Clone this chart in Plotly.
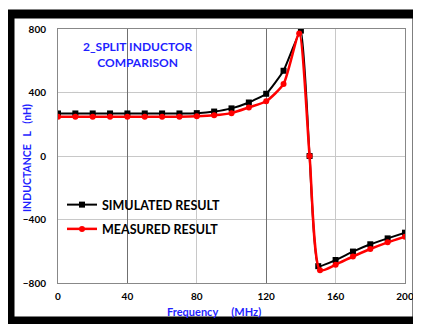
import plotly.graph_objects as go

# Simulated (black squares)
sim_f = [0, 10, 20, 30, 40, 50, 60, 70, 80, 90, 100, 110, 120, 130, 140, 145, 150, 160, 170, 180, 190, 200]
sim_L = [268, 268, 268, 268, 268, 268, 268, 268, 270, 280, 300, 337, 392, 537, 790, 0, -694, -655, -602, -556, -519, -483]

# Measured (red circles)
mea_f = [0, 10, 20, 30, 40, 50, 60, 70, 80, 90, 100, 110, 120, 130, 139, 145, 151, 160, 170, 180, 190, 200]
mea_L = [248, 248, 248, 248, 248, 248, 248, 248, 250, 256, 270, 306, 345, 454, 772, 0, -720, -685, -633, -586, -544, -508]

x_ticks = [0, 40, 80, 120, 160, 200]
y_ticks = [-800, -400, 0, 400, 800]

FONT = "Lato"
BLUE = "#1f1fff"

# figure geometry (page is offset by the 8px body margin)
W, H = 413, 316
L_M, T_M, PW, PH = 50, 21, 347, 254
B_M = H - T_M - PH
R_M = W - L_M - PW


def px(x):
    return (x - 8 - L_M) / PW


def py(y):
    return (T_M + PH - (y - 8)) / PH


fig = go.Figure()
fig.add_trace(go.Scatter(
    x=sim_f, y=sim_L, name="SIMULATED RESULT", mode="lines+markers",
    line=dict(color="black", width=2, shape="spline", smoothing=0.4),
    marker=dict(symbol="square", size=6, color="black"),
    legendgroup="a"))
fig.add_trace(go.Scatter(
    x=mea_f, y=mea_L, name="MEASURED RESULT", mode="lines+markers",
    line=dict(color="#ff0000", width=2.5, shape="spline", smoothing=0.6),
    marker=dict(symbol="circle", size=6, color="#ff0000"),
    legendgroup="b"))

# invisible trace on secondary x axis for darker grid lines
fig.add_trace(go.Scatter(x=[0, 200], y=[0, 0], xaxis="x2", mode="markers",
                         marker=dict(opacity=0), showlegend=False, hoverinfo="skip"))

fig.update_layout(
    width=W, height=H,
    margin=dict(l=L_M, r=R_M, t=T_M, b=B_M, autoexpand=False),
    paper_bgcolor="white", plot_bgcolor="white",
    font=dict(family=FONT, color="black"),
    showlegend=True,
    legend=dict(x=px(62), y=py(190), xanchor="left", yanchor="top",
                bgcolor="rgba(0,0,0,0)", font=dict(size=12.5, family=FONT, weight="bold"),
                tracegroupgap=5, itemwidth=30),
    xaxis=dict(range=[0, 200], tickvals=x_ticks, showgrid=True, gridcolor="#c8c8c8",
               gridwidth=1, zeroline=False, showline=True, linecolor="#888888",
               mirror=True, ticks="", ticklabelstandoff=4,
               tickfont=dict(size=10, family=FONT, weight="bold")),
    xaxis2=dict(range=[0, 200], overlaying="x", tickvals=[40, 120], showgrid=True,
                gridcolor="#707070", gridwidth=1, showticklabels=False, zeroline=False,
                showline=False, ticks="", layer="below traces"),
    yaxis=dict(range=[-800, 800], tickvals=y_ticks, showgrid=True, gridcolor="#c8c8c8",
               zeroline=False, showline=True, linecolor="#888888", mirror=True,
               ticks="", ticklabelstandoff=9,
               tickfont=dict(size=10, family=FONT, weight="bold")),
    annotations=[
        dict(text="2_SPLIT INDUCTOR<br>COMPARISON", xref="paper", yref="paper",
             x=px(137), y=py(54), xanchor="center", yanchor="middle", showarrow=False,
             font=dict(size=12, color=BLUE, family=FONT, weight="bold")),
        dict(text="Frequency     (MHz)", xref="paper", yref="paper",
             x=px(214), y=py(311), xanchor="center", yanchor="middle", showarrow=False,
             font=dict(size=11, color=BLUE, family=FONT, weight="bold")),
        dict(text="INDUCTANCE   L   (nH)", xref="paper", yref="paper", textangle=-90,
             x=px(27), y=py(158), xanchor="center", yanchor="middle", showarrow=False,
             font=dict(size=10.5, color=BLUE, family=FONT, weight="bold")),
    ],
    shapes=[dict(type="rect", xref="paper", yref="paper",
                 x0=px(10), x1=px(417), y0=py(321), y1=py(14),
                 line=dict(color="black", width=9), fillcolor="rgba(0,0,0,0)")],
)

fig.write_html("out.html")
